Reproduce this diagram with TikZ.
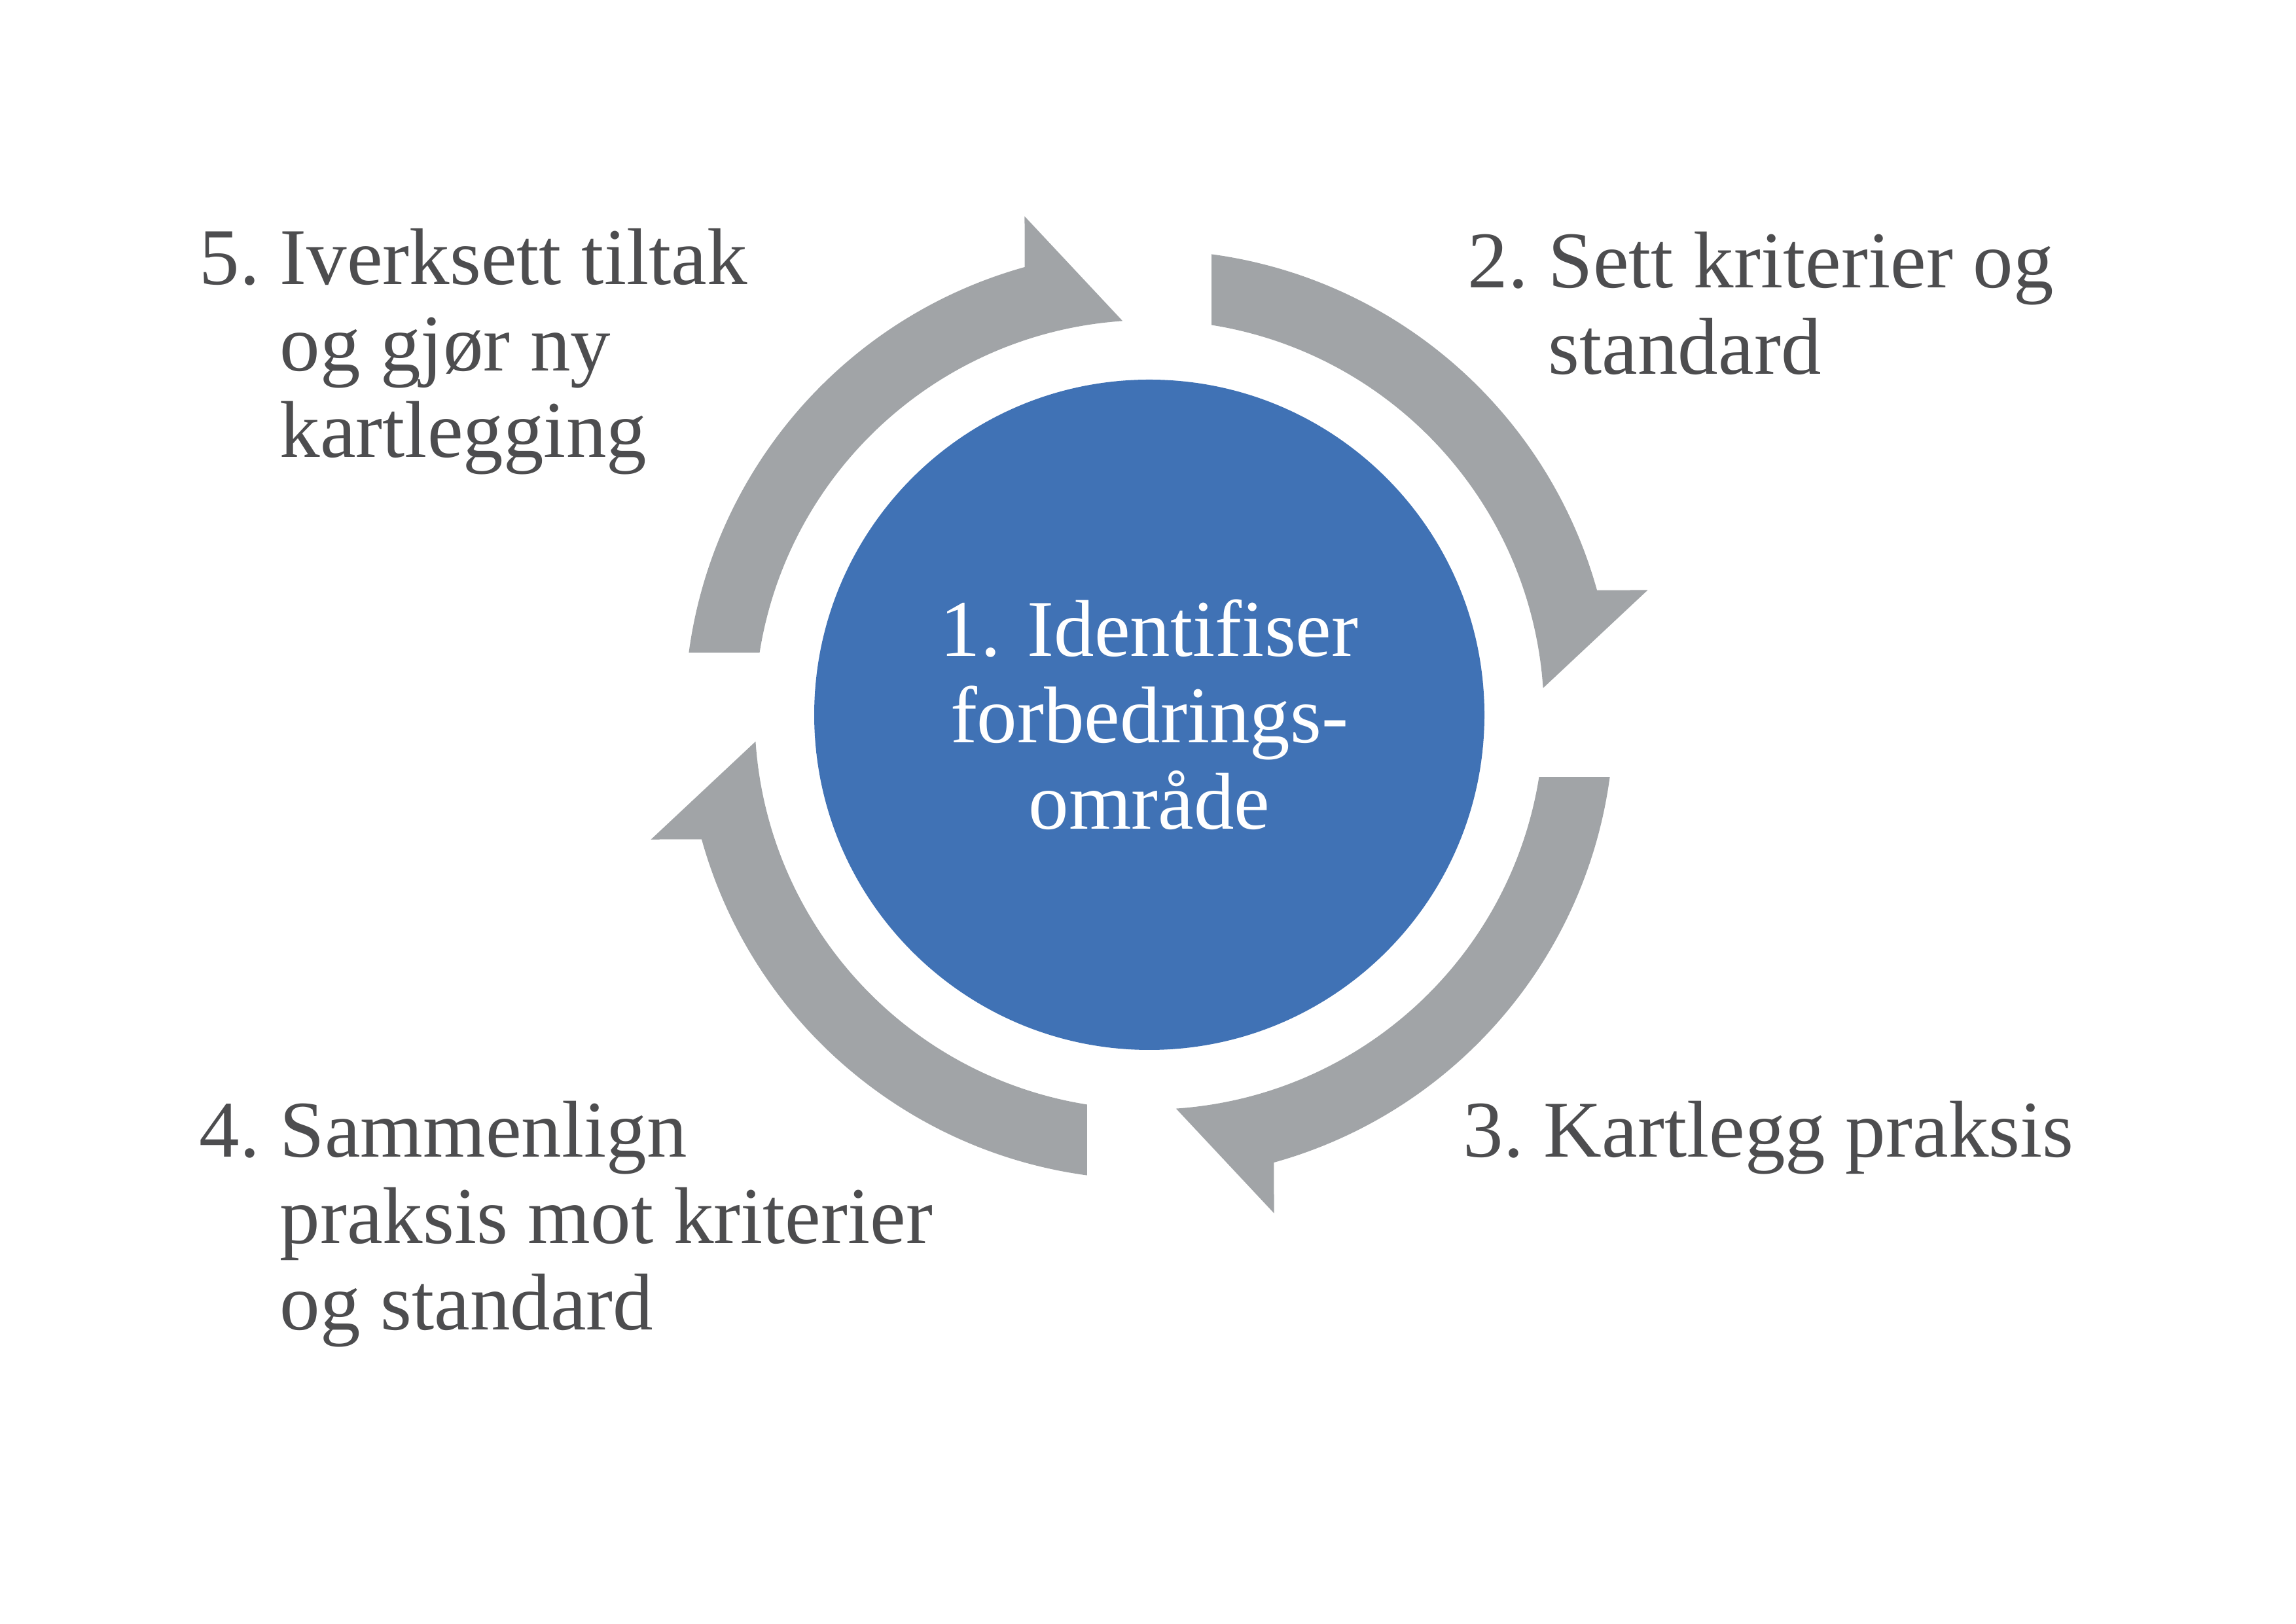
\documentclass[tikz,border=0pt]{standalone}
\usepackage{fontspec}
\setmainfont{Liberation Serif}
\usepackage{tikz}
\usetikzlibrary{calc}
\usepackage{xcolor}
\definecolor{ringgray}{RGB}{161,164,167}
\definecolor{hubblue}{RGB}{64,114,181}
\definecolor{textgray}{RGB}{77,77,79}

\begin{document}
\begin{tikzpicture}[
  hub/.style={circle, fill=hubblue, minimum size=10.24cm, inner sep=0pt,
              align=center, text=white, font=\fontsize{35}{37.5}\selectfont},
  lbl/.style={anchor=base west, inner sep=0pt, text=textgray,
              font=\fontsize{35}{37.5}\selectfont},
  ring/.style={fill=ringgray}
]
\useasboundingbox (0,0) rectangle (35.08,24.80);

\node[hub] (focus) at (17.56,13.88) {1. Identifiser\\forbedrings-\\område};

% four arrows round the hub, clockwise
\foreach \t in {90,180,270,360}
  \fill[ring] ($(focus)+(\t-7.7:7.10)$)
    arc[start angle=\t-7.7, end angle=\t-74.45, radius=7.10]
    -- ($(focus)+(\t-75.95:7.85)$)
    -- ($(focus)+(\t-86.12:6.03)$)
    arc[start angle=\t-86.12, end angle=\t-9.07, radius=6.03]
    -- cycle;

\node[lbl] (criteria) at (22.42,20.40)
  {\begin{tabular}[t]{@{}l@{\ }l@{}}2. & Sett kriterier og\\ & standard\end{tabular}};
\node[lbl] (survey) at (22.35,7.12)
  {\begin{tabular}[t]{@{}l@{\ }l@{}}3. & Kartlegg praksis\end{tabular}};
\node[lbl] (compare) at (3.04,7.12)
  {\begin{tabular}[t]{@{}l@{\ }l@{}}4. & Sammenlign\\ & praksis mot kriterier\\ & og standard\end{tabular}};
\node[lbl] (act) at (3.04,20.45)
  {\begin{tabular}[t]{@{}l@{\ }l@{}}5. & Iverksett tiltak\\ & og gjør ny\\ & kartlegging\end{tabular}};
\end{tikzpicture}
\end{document}
